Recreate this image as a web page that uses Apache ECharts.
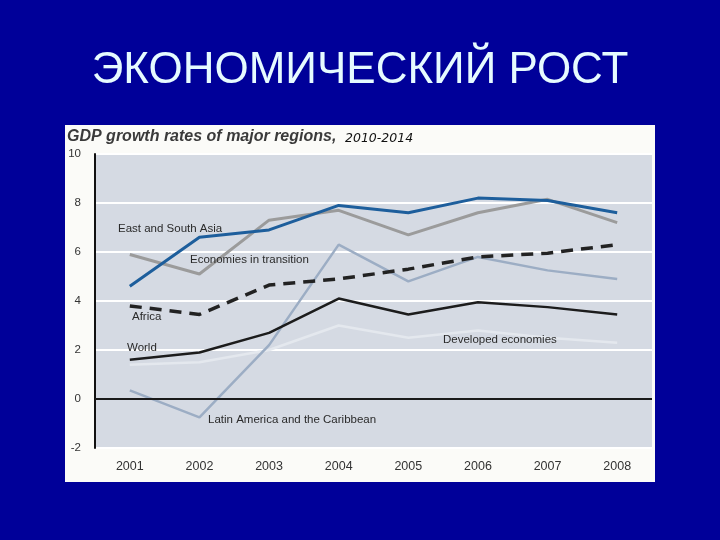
<!DOCTYPE html>
<html>
<head>
<meta charset="utf-8">
<script src="https://cdn.jsdelivr.net/npm/echarts@6/dist/echarts.min.js"></script>
<style>
  html, body { margin: 0; padding: 0; background: #000099; }
  #chart { width: 720px; height: 540px; }
</style>
</head>
<body>
<div id="chart"></div>
<script>
  // годы и ряды (темпы роста ВВП, %)
  const years = ['2001', '2002', '2003', '2004', '2005', '2006', '2007', '2008']
  const eastSouthAsia = [4.6, 6.6, 6.9, 7.9, 7.6, 8.2, 8.1, 7.6]
  const transition = [5.9, 5.1, 7.3, 7.7, 6.7, 7.6, 8.15, 7.2]
  const africa = [3.8, 3.45, 4.65, 4.9, 5.3, 5.8, 5.95, 6.3]
  const latinAmerica = [0.35, -0.75, 2.2, 6.3, 4.8, 5.8, 5.25, 4.9]
  const world = [1.6, 1.9, 2.7, 4.1, 3.45, 3.95, 3.75, 3.45]
  const developed = [1.4, 1.5, 2.0, 3.0, 2.5, 2.8, 2.5, 2.3]
  const yTicks = { min: -2, max: 10, interval: 2 }

  let myChart = echarts.init(document.getElementById('chart'))

  const font = '"Liberation Sans", Arial, sans-serif'
  const lbl = (text, x, y) => ({
    type: 'text', left: x, top: y, z: 100,
    style: { text: text, fill: '#2a2a2a', font: '11.5px ' + font }
  })

  let option = {
    backgroundColor: '#000099',
    animation: false,
    title: {
      text: 'ЭКОНОМИЧЕСКИЙ РОСТ',
      left: 'center',
      top: 44,
      textStyle: { color: '#e6fbff', fontFamily: font, fontSize: 44, fontWeight: 'normal' }
    },
    graphic: [
      {
        type: 'rect', z: -10, silent: true,
        shape: { x: 65, y: 125, width: 590, height: 357 },
        style: { fill: '#fbfbf8' }
      },
      {
        type: 'text', left: 67, top: 129, z: 10,
        style: { text: 'GDP growth rates of major regions,', fill: '#3a3a3a', font: 'italic bold 16px ' + font }
      },
      {
        type: 'text', left: 345, top: 132, z: 10,
        style: { text: '2010-2014', fill: '#111', font: 'italic 12.5px "DejaVu Sans", sans-serif' }
      },
      lbl('East and South Asia', 118, 223),
      lbl('Economies in transition', 190, 254),
      lbl('Africa', 132, 311),
      lbl('World', 127, 342),
      lbl('Developed economies', 443, 334),
      lbl('Latin America and the Caribbean', 208, 414)
    ],
    grid: {
      left: 95,
      right: 68,
      top: 154,
      bottom: 92,
      show: true,
      backgroundColor: '#d5dae3',
      borderWidth: 0
    },
    xAxis: {
      type: 'category',
      data: years,
      boundaryGap: true,
      axisLine: { show: false },
      axisTick: { show: false },
      axisLabel: { color: '#333', fontFamily: font, fontSize: 12.5, margin: 12 }
    },
    yAxis: {
      type: 'value',
      min: yTicks.min,
      max: yTicks.max,
      interval: yTicks.interval,
      axisLine: { show: true, lineStyle: { color: '#111', width: 2 } },
      axisTick: { show: false },
      axisLabel: { color: '#333', fontFamily: font, fontSize: 11.5, margin: 14 },
      splitLine: { show: true, lineStyle: { color: '#ffffff', width: 2 } }
    },
    series: [
      {
        name: 'Developed economies', type: 'line', data: developed, symbol: 'none',
        lineStyle: { color: '#e4e8ee', width: 2.5 },
        markLine: {
          silent: true, symbol: 'none', label: { show: false },
          lineStyle: { color: '#1a1a1a', width: 2, type: 'solid' },
          data: [{ yAxis: 0 }]
        }
      },
      {
        name: 'Latin America and the Caribbean', type: 'line', data: latinAmerica, symbol: 'none',
        lineStyle: { color: '#9cadc4', width: 2.5 }
      },
      {
        name: 'World', type: 'line', data: world, symbol: 'none',
        lineStyle: { color: '#1c1c1c', width: 2.5 }
      },
      {
        name: 'Africa', type: 'line', data: africa, symbol: 'none',
        lineStyle: { color: '#222', width: 3.5, type: [12, 8] }
      },
      {
        name: 'Economies in transition', type: 'line', data: transition, symbol: 'none',
        lineStyle: { color: '#9b9b9b', width: 3 }
      },
      {
        name: 'East and South Asia', type: 'line', data: eastSouthAsia, symbol: 'none',
        lineStyle: { color: '#1d5e9c', width: 3 }
      }
    ]
  }

  myChart.setOption(option)
</script>
</body>
</html>
